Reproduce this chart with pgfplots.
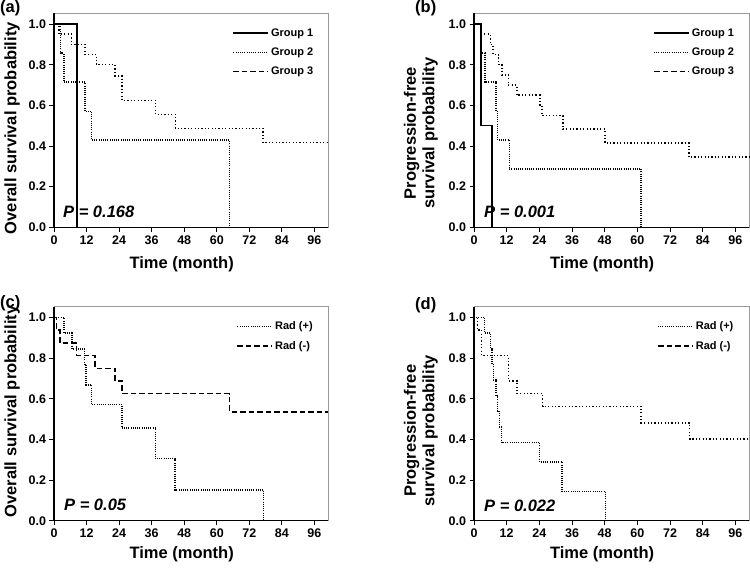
\documentclass[border=0pt]{standalone}
\usepackage{pgfplots}
\pgfplotsset{compat=1.18}
\usepackage{fontspec}
\setmainfont{Liberation Sans}

\pgfplotsset{
  kmaxis/.style={
    scale only axis, width=274pt, height=214pt,
    xmin=0, xmax=101, ymin=0, ymax=1.053,
    xtick={0,12,...,96}, ytick={0,0.2,0.4,0.6,0.8,1.0},
    xtick pos=left, ytick pos=left,
    tick align=outside, major tick length=4.5pt,
    tick style={black, line width=0.8pt},
    axis line style={draw=black!40, line width=0.8pt},
    /pgf/number format/assume math mode=true,
    tick label style={font=\fontsize{12.5}{13}\selectfont\bfseries},
    yticklabel style={/pgf/number format/.cd, fixed, fixed zerofill, precision=1},
    label style={font=\fontsize{16.5}{18.5}\selectfont\bfseries},
    xlabel={Time (month)},
    xlabel style={at={(axis description cs:0.466,0)}, anchor=center, yshift=-37pt},
    legend style={draw=none, fill=none, font=\fontsize{11}{12}\selectfont\bfseries,
      anchor=north west, row sep=6pt},
    legend cell align=left,
    legend image code/.code={\draw[#1] (0pt,0pt) -- (35pt,0pt);},
    clip=false,
    after end axis/.code={\draw[black, line width=1.1pt] (rel axis cs:0,1) -- (rel axis cs:0,0) -- (rel axis cs:1,0);},
  },
  solidkm/.style={black, line width=1.6pt, const plot},
  densedot/.style={black, line width=1.5pt, dash pattern=on 1pt off 1.2pt, const plot},
  sparsedot/.style={black, line width=1.5pt, dash pattern=on 1.2pt off 2.2pt, const plot},
  dashkm/.style={black, line width=1.5pt, dash pattern=on 5.5pt off 3pt, const plot},
}

\begin{document}
\begin{tikzpicture}
\useasboundingbox (0pt,0pt) rectangle (750pt,-571pt);

% ---------- (a)
\begin{axis}[kmaxis, at={(54pt,-227.3pt)}, anchor=south west,
  ylabel={Overall survival probability},
  ylabel style={at={(axis description cs:-0.153,0.463)}, anchor=center},
  legend style={at={(axis description cs:0.64,0.948)}}]
\addlegendimage{solidkm}\addlegendentry{Group 1}
\addlegendimage{densedot}\addlegendentry{Group 2}
\addlegendimage{dashkm}\addlegendentry{Group 3}
\addplot[sparsedot, forget plot] coordinates {(0,1) (1.8,0.95) (6.4,0.90) (11.5,0.85) (15.6,0.80) (22.5,0.745) (25.0,0.625) (37.4,0.556) (44.7,0.487) (77.0,0.417) (101,0.417)};
\addplot[densedot, forget plot] coordinates {(0,1) (2.4,0.857) (3.7,0.714) (11.4,0.571) (13.9,0.429) (64.7,0)};
\addplot[solidkm, forget plot] coordinates {(0,1) (8.4,0)};
\end{axis}

% ---------- (b)
\begin{axis}[kmaxis, at={(474pt,-227.3pt)}, anchor=south west, width=275pt,
  ylabel={Progression-free\\survival probability},
  ylabel style={at={(axis description cs:-0.193,0.44)}, anchor=center, align=center},
  legend style={at={(axis description cs:0.64,0.948)}}]
\addlegendimage{solidkm}\addlegendentry{Group 1}
\addlegendimage{densedot}\addlegendentry{Group 2}
\addlegendimage{dashkm}\addlegendentry{Group 3}
\addplot[sparsedot, forget plot] coordinates {(0,1) (2.7,0.95) (6.0,0.90) (7.0,0.85) (9.0,0.80) (10.2,0.75) (12.6,0.70) (15.7,0.65) (24.2,0.60) (24.9,0.55) (32.6,0.483) (48.1,0.414) (79.0,0.345) (101,0.345)};
\addplot[densedot, forget plot] coordinates {(0,1) (2.8,0.857) (4.0,0.714) (8.1,0.571) (8.7,0.429) (13.0,0.286) (61.4,0)};
\addplot[solidkm, forget plot] coordinates {(0,1) (2.5,0.5) (6.6,0)};
\end{axis}

% ---------- (c)
\begin{axis}[kmaxis, at={(54pt,-520.7pt)}, anchor=south west,
  ylabel={Overall survival probability},
  ylabel style={at={(axis description cs:-0.153,0.51)}, anchor=center},
  xlabel style={yshift=3pt},
  legend style={at={(axis description cs:0.655,0.95)}}]
\addlegendimage{densedot}\addlegendentry{Rad (+)}
\addlegendimage{dashkm}\addlegendentry{Rad (-)}
\addplot[densedot, forget plot] coordinates {(0,1) (3.7,0.923) (6.7,0.846) (11.3,0.769) (11.8,0.667) (13.9,0.571) (25.0,0.457) (37.4,0.305) (44.6,0.152) (77.3,0)};
\addplot[dashkm, forget plot] coordinates {(0,1) (1.0,0.9375) (2.2,0.875) (8.3,0.8125) (15.2,0.75) (22.5,0.6875) (25.1,0.625) (64.7,0.536) (101,0.536)};
\end{axis}

% ---------- (d)
\begin{axis}[kmaxis, at={(474pt,-520.7pt)}, anchor=south west, width=275pt,
  ylabel={Progression-free\\survival probability},
  ylabel style={at={(axis description cs:-0.193,0.42)}, anchor=center, align=center},
  xlabel style={yshift=3pt},
  legend style={at={(axis description cs:0.655,0.95)}}]
\addlegendimage{densedot}\addlegendentry{Rad (+)}
\addlegendimage{dashkm}\addlegendentry{Rad (-)}
\addplot[densedot, forget plot] coordinates {(0,1) (3.9,0.923) (6.0,0.846) (6.6,0.769) (7.1,0.692) (8.0,0.615) (8.7,0.538) (9.3,0.462) (10.1,0.385) (24.1,0.289) (32.4,0.144) (48.3,0)};
\addplot[sparsedot, forget plot] coordinates {(0,1) (1.2,0.9375) (2.8,0.8125) (12.7,0.6875) (15.8,0.625) (25.2,0.5625) (61.4,0.482) (79.2,0.402) (101,0.402)};
\end{axis}

% panel labels and P values
\node[anchor=north west, inner sep=0, font=\fontsize{16.5}{18}\selectfont\bfseries] at (0pt,-0.5pt) {(a)};
\node[anchor=north west, inner sep=0, font=\fontsize{16.5}{18}\selectfont\bfseries] at (415pt,-0.5pt) {(b)};
\node[anchor=north west, inner sep=0, font=\fontsize{16.5}{18}\selectfont\bfseries] at (0pt,-295pt) {(c)};
\node[anchor=north west, inner sep=0, font=\fontsize{16.5}{18}\selectfont\bfseries] at (415pt,-297pt) {(d)};
\node[anchor=west, inner sep=0, font=\fontsize{16.5}{18}\selectfont\bfseries\itshape] at (63pt,-212pt) {P = 0.168};
\node[anchor=west, inner sep=0, font=\fontsize{16.5}{18}\selectfont\bfseries\itshape] at (484pt,-212pt) {P = 0.001};
\node[anchor=west, inner sep=0, font=\fontsize{16.5}{18}\selectfont\bfseries\itshape] at (64pt,-505pt) {P = 0.05};
\node[anchor=west, inner sep=0, font=\fontsize{16.5}{18}\selectfont\bfseries\itshape] at (484pt,-505.7pt) {P = 0.022};
\end{tikzpicture}
\end{document}
